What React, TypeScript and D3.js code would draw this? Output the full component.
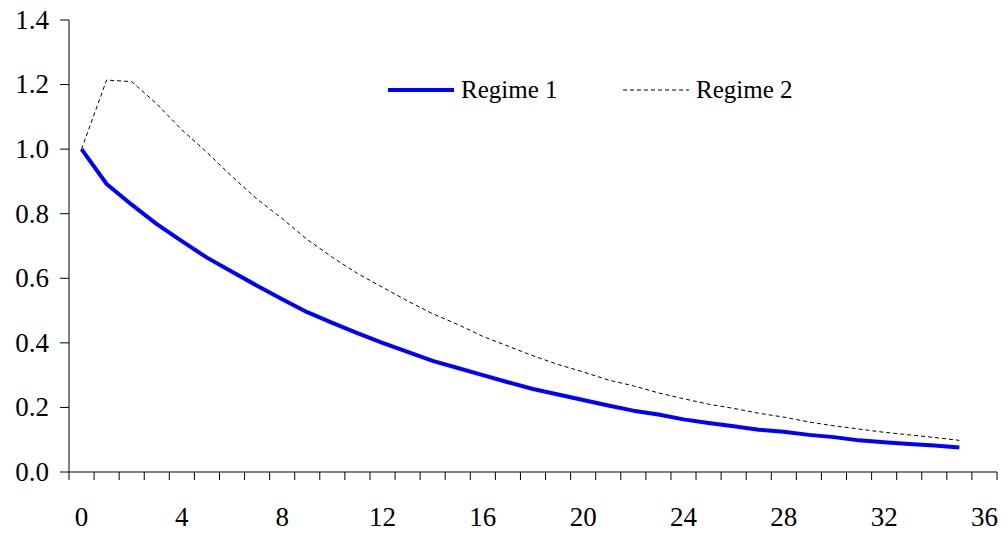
import { useEffect, useRef } from "react";
import * as d3 from "d3";

// periods 0..36 on the category axis, data runs 0..35
const categories = d3.range(0, 37);
const xLabels = [0, 4, 8, 12, 16, 20, 24, 28, 32, 36];
const yTicks = [0, 0.2, 0.4, 0.6, 0.8, 1.0, 1.2, 1.4];

const regime1 = [
  1.0, 0.892, 0.828, 0.768, 0.715, 0.664, 0.62, 0.577, 0.535, 0.495,
  0.462, 0.43, 0.4, 0.372, 0.344, 0.322, 0.3, 0.278, 0.257, 0.24,
  0.223, 0.206, 0.19, 0.178, 0.163, 0.152, 0.142, 0.131, 0.125, 0.115,
  0.108, 0.098, 0.092, 0.087, 0.082, 0.076,
];
const regime2 = [
  1.0, 1.214, 1.209, 1.14, 1.06, 0.99, 0.915, 0.845, 0.785, 0.72,
  0.665, 0.615, 0.572, 0.53, 0.49, 0.457, 0.42, 0.39, 0.36, 0.333,
  0.31, 0.285, 0.267, 0.245, 0.227, 0.21, 0.197, 0.182, 0.17, 0.155,
  0.143, 0.133, 0.123, 0.115, 0.107, 0.098,
];

const series = [
  { name: "Regime 1", values: regime1, color: "#0000ff", width: 4, dash: null },
  { name: "Regime 2", values: regime2, color: "#000000", width: 1, dash: "4,3" },
];

export default function App() {
  const svgRef = useRef(null);

  useEffect(() => {
    const width = 1007;
    const height = 535;
    const left = 69;
    const right = 997;
    const top = 20;
    const bottom = 472;
    const font = "'Liberation Serif', 'Times New Roman', serif";

    const svg = d3.select(svgRef.current);
    svg.selectAll("*").remove();
    svg.attr("width", width).attr("height", height);

    const x = d3
      .scaleBand()
      .domain(categories.map(String))
      .range([left, right])
      .padding(0);
    const y = d3.scaleLinear().domain([0, 1.4]).range([bottom, top]);
    const cx = (i) => x(String(i)) + x.bandwidth() / 2;

    // y axis
    svg
      .append("line")
      .attr("x1", left)
      .attr("x2", left)
      .attr("y1", top)
      .attr("y2", bottom)
      .attr("stroke", "#000");
    svg
      .selectAll(".ytick")
      .data(yTicks)
      .enter()
      .append("line")
      .attr("x1", left - 9)
      .attr("x2", left)
      .attr("y1", (d) => y(d))
      .attr("y2", (d) => y(d))
      .attr("stroke", "#000");
    svg
      .selectAll(".ylab")
      .data(yTicks)
      .enter()
      .append("text")
      .attr("x", 49)
      .attr("y", (d) => y(d))
      .attr("dy", "0.33em")
      .attr("text-anchor", "end")
      .attr("font-family", font)
      .attr("font-size", 27)
      .text((d) => d.toFixed(1));

    // x axis
    svg
      .append("line")
      .attr("x1", left)
      .attr("x2", right)
      .attr("y1", bottom)
      .attr("y2", bottom)
      .attr("stroke", "#000");
    const bounds = categories.map((c) => x(String(c))).concat([right]);
    svg
      .selectAll(".xtick")
      .data(bounds)
      .enter()
      .append("line")
      .attr("x1", (d) => d)
      .attr("x2", (d) => d)
      .attr("y1", bottom)
      .attr("y2", bottom + 8)
      .attr("stroke", "#000");
    svg
      .selectAll(".xlab")
      .data(xLabels)
      .enter()
      .append("text")
      .attr("x", (d) => cx(d))
      .attr("y", 526)
      .attr("text-anchor", "middle")
      .attr("font-family", font)
      .attr("font-size", 27)
      .text((d) => d);

    // lines
    const line = d3
      .line()
      .x((d, i) => cx(i))
      .y((d) => y(d));
    series
      .slice()
      .reverse()
      .forEach((s) => {
        svg
          .append("path")
          .datum(s.values)
          .attr("d", line)
          .attr("fill", "none")
          .attr("stroke", s.color)
          .attr("stroke-width", s.width)
          .attr("stroke-dasharray", s.dash)
          .attr("stroke-linejoin", "round");
      });

    // legend
    const legendX = [388, 623];
    series.forEach((s, i) => {
      svg
        .append("line")
        .attr("x1", legendX[i])
        .attr("x2", legendX[i] + 66)
        .attr("y1", 90)
        .attr("y2", 90)
        .attr("stroke", s.color)
        .attr("stroke-width", s.width)
        .attr("stroke-dasharray", s.dash);
      svg
        .append("text")
        .attr("x", legendX[i] + 73)
        .attr("y", 98)
        .attr("font-family", font)
        .attr("font-size", 25)
        .text(s.name);
    });
  }, []);

  return <svg ref={svgRef} style={{ position: "absolute", left: 0, top: 0 }}></svg>;
}
